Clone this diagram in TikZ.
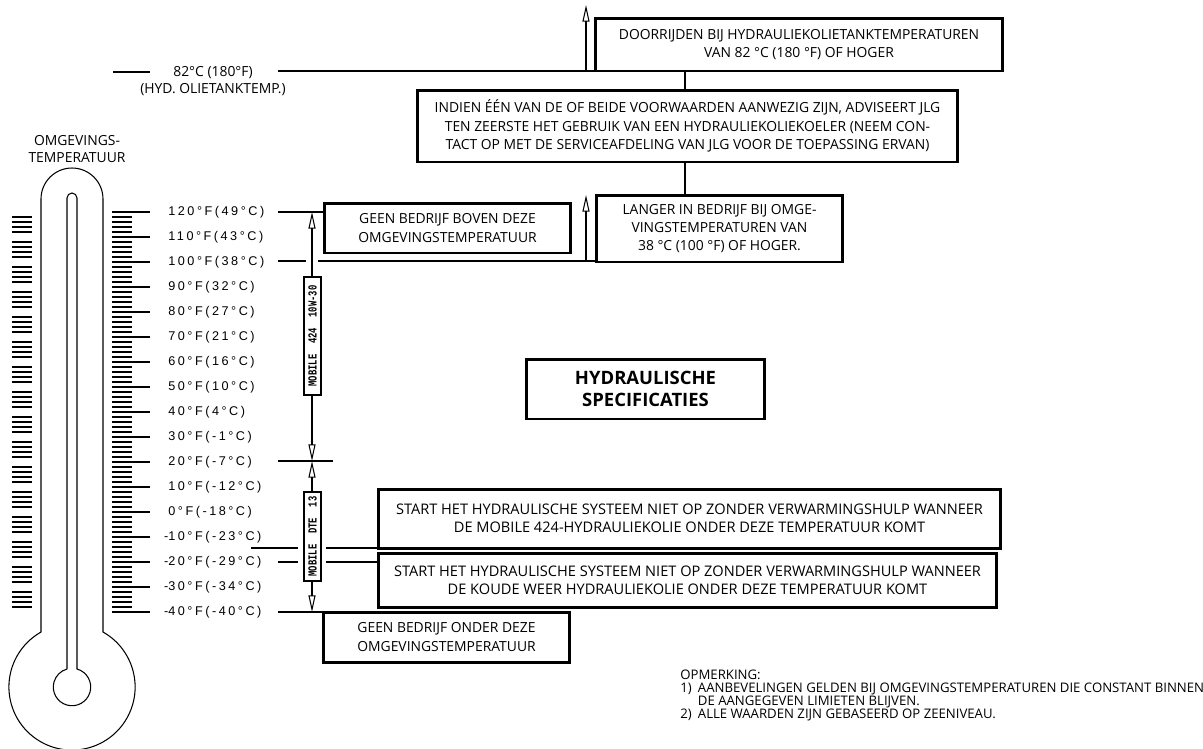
\documentclass[tikz,border=0pt]{standalone}
\usepackage{graphicx}
\usepackage{fontspec}
\setmainfont{Open Sans}
\newfontfamily\scalefont[LetterSpace=20]{Liberation Sans}
\newfontfamily\oilfont{Liberation Mono}
\usetikzlibrary{arrows.meta}

\tikzset{
  hair/.style={line width=0.6pt},
  boxed/.style={draw, line width=1.7pt, align=center, inner sep=0pt, outer sep=0pt,
    font=\fontsize{7.9}{10.4}\selectfont},
  widebox/.style={boxed, font=\fontsize{8.3}{10.4}\selectfont},
  oilbox/.style={draw, fill=white, line width=0.6pt, inner sep=0pt, outer sep=0pt, rotate=90,
    minimum height=0.34cm, font=\oilfont\bfseries\fontsize{7}{7}\selectfont},
  scalelbl/.style={anchor=west, inner sep=0pt, font=\scalefont\fontsize{7.2}{8}\selectfont},
  plain/.style={align=center, inner sep=0pt, font=\fontsize{7.9}{9.8}\selectfont},
  >={Triangle[open,length=9.5pt,width=4pt]}
}

\begin{document}
\begin{tikzpicture}[x=0.02cm,y=-0.02cm]
\useasboundingbox (0,0) rectangle (1203,748);

% thermometer
\draw[hair] (41,632) -- (41,199) arc (180:360:31) -- (103,632) arc (-60.6:240.6:63.1);
\draw[hair] (67,669) -- (67,198) arc (180:360:5) -- (77,669) arc (-74.5:254.5:18.7);
\node[plain] (ambient) at (77,149) {OMGEVINGS-\\TEMPERATUUR};

% scale ticks, one every 2 degrees F
\foreach \i in {0,...,80}{
  \pgfmathsetmacro{\yy}{212+5*\i}
  \pgfmathtruncatemacro{\r}{mod(\i,5)}
  \ifnum\r=0
    \draw[hair] (112,\yy) -- (150,\yy);
  \else
    \draw[hair] (112,\yy) -- (132,\yy);
    \draw[hair] (12,\yy) -- (32,\yy);
  \fi
}
\foreach \f/\c/\s [count=\k from 0] in {120/49/,110/43/,100/38/,90/32/,80/27/,
    70/21/,60/16/,50/10/,40/4/,30/-1/,20/-7/,10/-12/,0/-18/,10/-23/-,20/-29/-,
    30/-34/-,40/-40/-}
  \node[scalelbl] (deg\k) at (168,212+25*\k) {\llap{\s}\f°F(\c°C)};

% levels
\coordinate (l120) at (278,212);
\coordinate (l100) at (278,261);
\coordinate (l20) at (278,461);
\coordinate (lm20) at (278,562);
\coordinate (lm40) at (278,612);
\coordinate (lcold) at (251,548);
\coordinate (ltank) at (278,71);

% boxes
\node[boxed, minimum width=8.16cm, minimum height=1.06cm] (b1) at (799,44.5)
  {DOORRIJDEN BIJ HYDRAULIEKOLIETANKTEMPERATUREN\\VAN 82 °C (180 °F) OF HOGER};
\node[boxed, minimum width=10.82cm, minimum height=1.44cm] (b2) at (687.5,126)
  {INDIEN ÉÉN VAN DE OF BEIDE VOORWAARDEN AANWEZIG ZIJN, ADVISEERT JLG\\
   TEN ZEERSTE HET GEBRUIK VAN EEN HYDRAULIEKOLIEKOELER (NEEM CON-\\
   TACT OP MET DE SERVICEAFDELING VAN JLG VOOR DE TOEPASSING ERVAN)};
\node[boxed, minimum width=4.94cm, minimum height=1.34cm] (b3) at (719.5,228.5)
  {LANGER IN BEDRIJF BIJ OMGE-\\VINGSTEMPERATUREN VAN\\38 °C (100 °F) OF HOGER.};
\node[boxed, minimum width=4.94cm, minimum height=1cm] (b4) at (447.5,228)
  {GEEN BEDRIJF BOVEN DEZE\\OMGEVINGSTEMPERATUUR};
\node[boxed, minimum width=4.78cm, minimum height=1.2cm,
  font=\bfseries\fontsize{10.5}{12.8}\selectfont] (b8) at (645.5,389)
  {HYDRAULISCHE\\SPECIFICATIES};
\node[widebox, minimum width=12.46cm, minimum height=1.18cm] (b5) at (689.5,518.5)
  {START HET HYDRAULISCHE SYSTEEM NIET OP ZONDER VERWARMINGSHULP WANNEER\\
   DE MOBILE 424-HYDRAULIEKOLIE ONDER DEZE TEMPERATUUR KOMT};
\node[widebox, minimum width=12.38cm, minimum height=1.08cm] (b6) at (687.5,580)
  {START HET HYDRAULISCHE SYSTEEM NIET OP ZONDER VERWARMINGSHULP WANNEER\\
   DE KOUDE WEER HYDRAULIEKOLIE ONDER DEZE TEMPERATUUR KOMT};
\node[boxed, minimum width=4.94cm, minimum height=1cm] (b7) at (446.5,637)
  {GEEN BEDRIJF ONDER DEZE\\OMGEVINGSTEMPERATUUR};

% hydraulic tank temperature
\node[plain] (tank) at (213,81) {82°C (180°F)\\(HYD. OLIETANKTEMP.)};
\draw[hair] (113,72) -- (150,72);
\draw[hair] (ltank) -- (ltank -| b1.west);
\draw[hair,->] (586,71) -- (586,5);
\draw[hair] (685,0 |- b1.south) -- (685,0 |- b2.north);
\draw[hair] (685,0 |- b2.south) -- (685,0 |- b3.north);

% level lines
\draw[hair] (l120) -- (l120 -| b4.west);
\draw[hair] (l100) -- (306,261) (318,261) -- (l100 -| b3.west);
\draw[hair,->] (586,261) -- (586,195);
\draw[hair] (l20) -- (333,461);
\draw[hair] (lcold) -- (298,548) (326,548) -- (lcold -| b5.west);
\draw[hair] (lm20) -- (298,562) (326,562) -- (lm20 -| b6.west);
\draw[hair] (lm40) -- (lm40 -| b7.west);

% oil ranges
\draw[hair,<->] (312,212) -- (312,461);
\draw[hair,<->] (312,461) -- (312,612);
\node[oilbox, minimum width=2.36cm] (oil1) at (312.5,336) {\scalebox{0.72}[1]{MOBILE~~424~~10W-30}};
\node[oilbox, minimum width=1.78cm] (oil2) at (312.5,536.5) {\scalebox{0.72}[1]{MOBILE~~DTE~~13}};

% note
\node[anchor=north west, align=left, inner sep=0pt, font=\fontsize{7.5}{7.4}\selectfont] (note) at (680,670)
  {OPMERKING:\\
   \makebox[10pt][l]{1)}AANBEVELINGEN GELDEN BIJ OMGEVINGSTEMPERATUREN DIE CONSTANT BINNEN\\
   \makebox[10pt][l]{}DE AANGEGEVEN LIMIETEN BLIJVEN.\\
   \makebox[10pt][l]{2)}ALLE WAARDEN ZIJN GEBASEERD OP ZEENIVEAU.};
\end{tikzpicture}
\end{document}
